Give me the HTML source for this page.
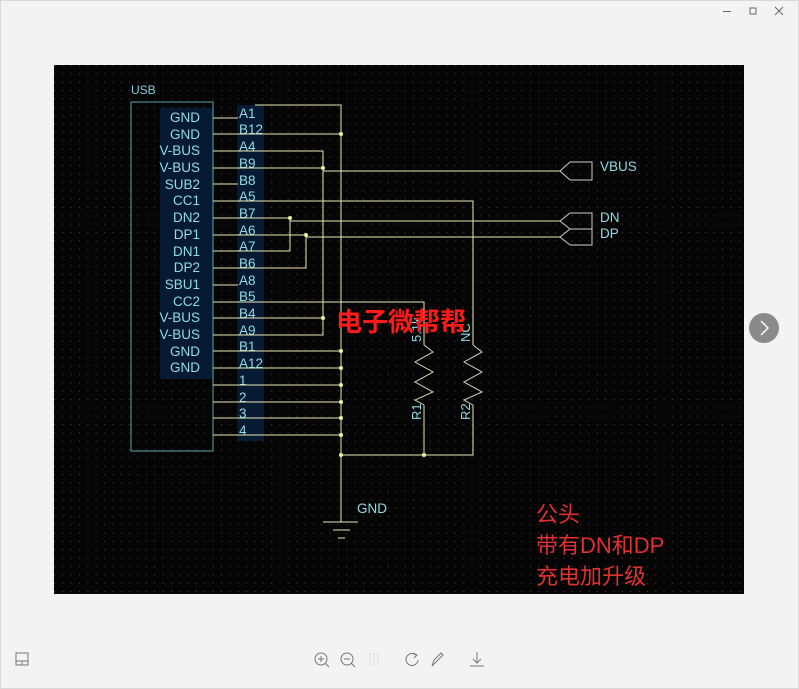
<!DOCTYPE html>
<html><head><meta charset="utf-8"><style>
html,body{margin:0;padding:0;width:799px;height:689px;background:#f3f3f3;overflow:hidden}
svg{position:absolute;left:0;top:0}
</style></head><body>
<svg width="799" height="689" viewBox="0 0 799 689" xmlns="http://www.w3.org/2000/svg" font-family="Liberation Sans, Noto Sans CJK SC, sans-serif">
<defs>
<pattern id="g" x="54" y="65" width="8.35" height="8.35" patternUnits="userSpaceOnUse">
<rect x="0" y="0" width="1" height="1" fill="#4a4a4a"/>
</pattern>
</defs>
<rect x="0" y="0" width="799" height="689" fill="#f3f3f3"/>
<rect x="0.5" y="0.5" width="798" height="688" fill="none" stroke="#d8d8d8"/>
<g stroke="#666" stroke-width="1" fill="none">
<line x1="723" y1="11.5" x2="731" y2="11.5"/>
<rect x="750" y="8" width="6" height="6"/>
<line x1="775" y1="7" x2="783" y2="15"/><line x1="783" y1="7" x2="775" y2="15"/>
</g>
<rect x="54" y="65" width="690" height="529" fill="#050505"/>
<rect x="54" y="65" width="690" height="529" fill="url(#g)"/>
<g fill="#071a33">
<rect x="160" y="108" width="53" height="271"/>
<rect x="237" y="105" width="27" height="336"/>
</g>
<text x="131" y="94" fill="#7fd3df" font-size="12">USB</text>
<rect x="131" y="102" width="82" height="349" fill="none" stroke="#5fa8a8" stroke-width="1"/>
<g font-size="13.5" fill="#8fdce6" text-anchor="end">
<text x="200" y="122">GND</text><text x="200" y="139">GND</text>
<text x="200" y="155">V-BUS</text><text x="200" y="172">V-BUS</text>
<text x="200" y="189">SUB2</text><text x="200" y="205">CC1</text>
<text x="200" y="222">DN2</text><text x="200" y="239">DP1</text>
<text x="200" y="256">DN1</text><text x="200" y="272">DP2</text>
<text x="200" y="289">SBU1</text><text x="200" y="306">CC2</text>
<text x="200" y="322">V-BUS</text><text x="200" y="339">V-BUS</text>
<text x="200" y="356">GND</text><text x="200" y="372">GND</text>
</g>
<g font-size="13.5" fill="#8fdce6">
<text x="239" y="118">A1</text><text x="239" y="134">B12</text>
<text x="239" y="151">A4</text><text x="239" y="168">B9</text>
<text x="239" y="185">B8</text><text x="239" y="201">A5</text>
<text x="239" y="218">B7</text><text x="239" y="235">A6</text>
<text x="239" y="251">A7</text><text x="239" y="268">B6</text>
<text x="239" y="285">A8</text><text x="239" y="301">B5</text>
<text x="239" y="318">B4</text><text x="239" y="335">A9</text>
<text x="239" y="351">B1</text><text x="239" y="368">A12</text>
<text x="239" y="385">1</text><text x="239" y="402">2</text>
<text x="239" y="418">3</text><text x="239" y="435">4</text>
</g>
<g stroke="#e8e8b0" stroke-width="1" fill="none">
<path d="M213 118H238M255 105H341V455"/>
<path d="M213 134H341"/>
<path d="M213 151H323V335H213"/>
<path d="M213 168H323M323 171H560"/>
<path d="M213 184H238"/>
<path d="M213 201H473V345"/>
<path d="M213 218H290V251H213M290 221H560"/>
<path d="M213 235H306V268H213M306 237H560"/>
<path d="M213 285H238"/>
<path d="M213 302H424V345"/>
<path d="M213 318H323"/>
<path d="M213 351H341M213 368H341M213 385H341M213 402H341M213 418H341M213 435H341"/>
<path d="M341 455H473V405M424 405V455"/>
<path d="M341 455V522M323 522H358M333 530H350M338 538H345"/>
</g>
<g fill="#f0f0a0">
<circle cx="341" cy="134" r="2"/><circle cx="323" cy="168" r="2"/><circle cx="290" cy="218" r="2"/><circle cx="306" cy="235" r="2"/><circle cx="323" cy="318" r="2"/>
<circle cx="341" cy="351" r="2"/><circle cx="341" cy="368" r="2"/><circle cx="341" cy="385" r="2"/><circle cx="341" cy="402" r="2"/><circle cx="341" cy="418" r="2"/><circle cx="341" cy="435" r="2"/><circle cx="341" cy="455" r="2"/><circle cx="424" cy="455" r="2"/>
</g>
<g stroke="#d8d8c0" stroke-width="1" fill="none">
<path d="M424 345L433 352L415 362L433 372L415 382L433 392L415 400L424 405"/>
<path d="M473 345L482 352L464 362L482 372L464 382L482 392L464 400L473 405"/>
</g>
<g font-size="13" fill="#8fdce6">
<text transform="translate(421,342) rotate(-90)">5.1k</text>
<text transform="translate(470,342) rotate(-90)">NC</text>
<text transform="translate(421,420) rotate(-90)">R1</text>
<text transform="translate(470,420) rotate(-90)">R2</text>
</g>
<g stroke="#cfcfcf" stroke-width="1" fill="none">
<path d="M560 171L570 162H592V180H570Z"/>
<path d="M560 221L570 213H592V229H570Z"/>
<path d="M560 237L570 229M570 245H592V229"/>
<path d="M560 237L570 245"/>
</g>
<g font-size="13.5" fill="#8fdce6">
<text x="600" y="171">VBUS</text><text x="600" y="222">DN</text><text x="600" y="238">DP</text>
<text x="357" y="513">GND</text>
</g>
<text x="336" y="331" font-size="26" font-weight="bold" fill="#ff1a1a">电子微帮帮</text>
<g font-size="22" fill="#e03030">
<text x="536" y="522">公头</text>
<text x="536" y="553">带有DN和DP</text>
<text x="536" y="584">充电加升级</text>
</g>
<circle cx="764" cy="328" r="15" fill="#8a8a8a"/>
<path d="M761 321L768 328L761 335" stroke="#fff" stroke-width="1.5" fill="none"/>
<g stroke="#777" stroke-width="1" fill="none">
<rect x="16" y="653" width="12" height="12"/><line x1="16" y1="661" x2="28" y2="661"/><line x1="22" y1="661" x2="22" y2="665"/>
<circle cx="321" cy="659" r="6"/><line x1="325" y1="663" x2="329" y2="667"/><line x1="318" y1="659" x2="324" y2="659"/><line x1="321" y1="656" x2="321" y2="662"/>
<circle cx="347" cy="659" r="6"/><line x1="351" y1="663" x2="355" y2="667"/><line x1="344" y1="659" x2="350" y2="659"/>
<path d="M416 655A6 6 0 1 0 418 660"/><path d="M413 653L417 655L414 658"/>
<path d="M432 666L434 660L441 653L443 655L436 662Z"/>
<path d="M477 652V663M473 659L477 663L481 659M470 666H484"/>
</g>
<g stroke="#ddd" stroke-width="1"><line x1="370" y1="653" x2="370" y2="666"/><line x1="374" y1="653" x2="374" y2="666"/><line x1="378" y1="653" x2="378" y2="666"/></g>
</svg>
</body></html>
